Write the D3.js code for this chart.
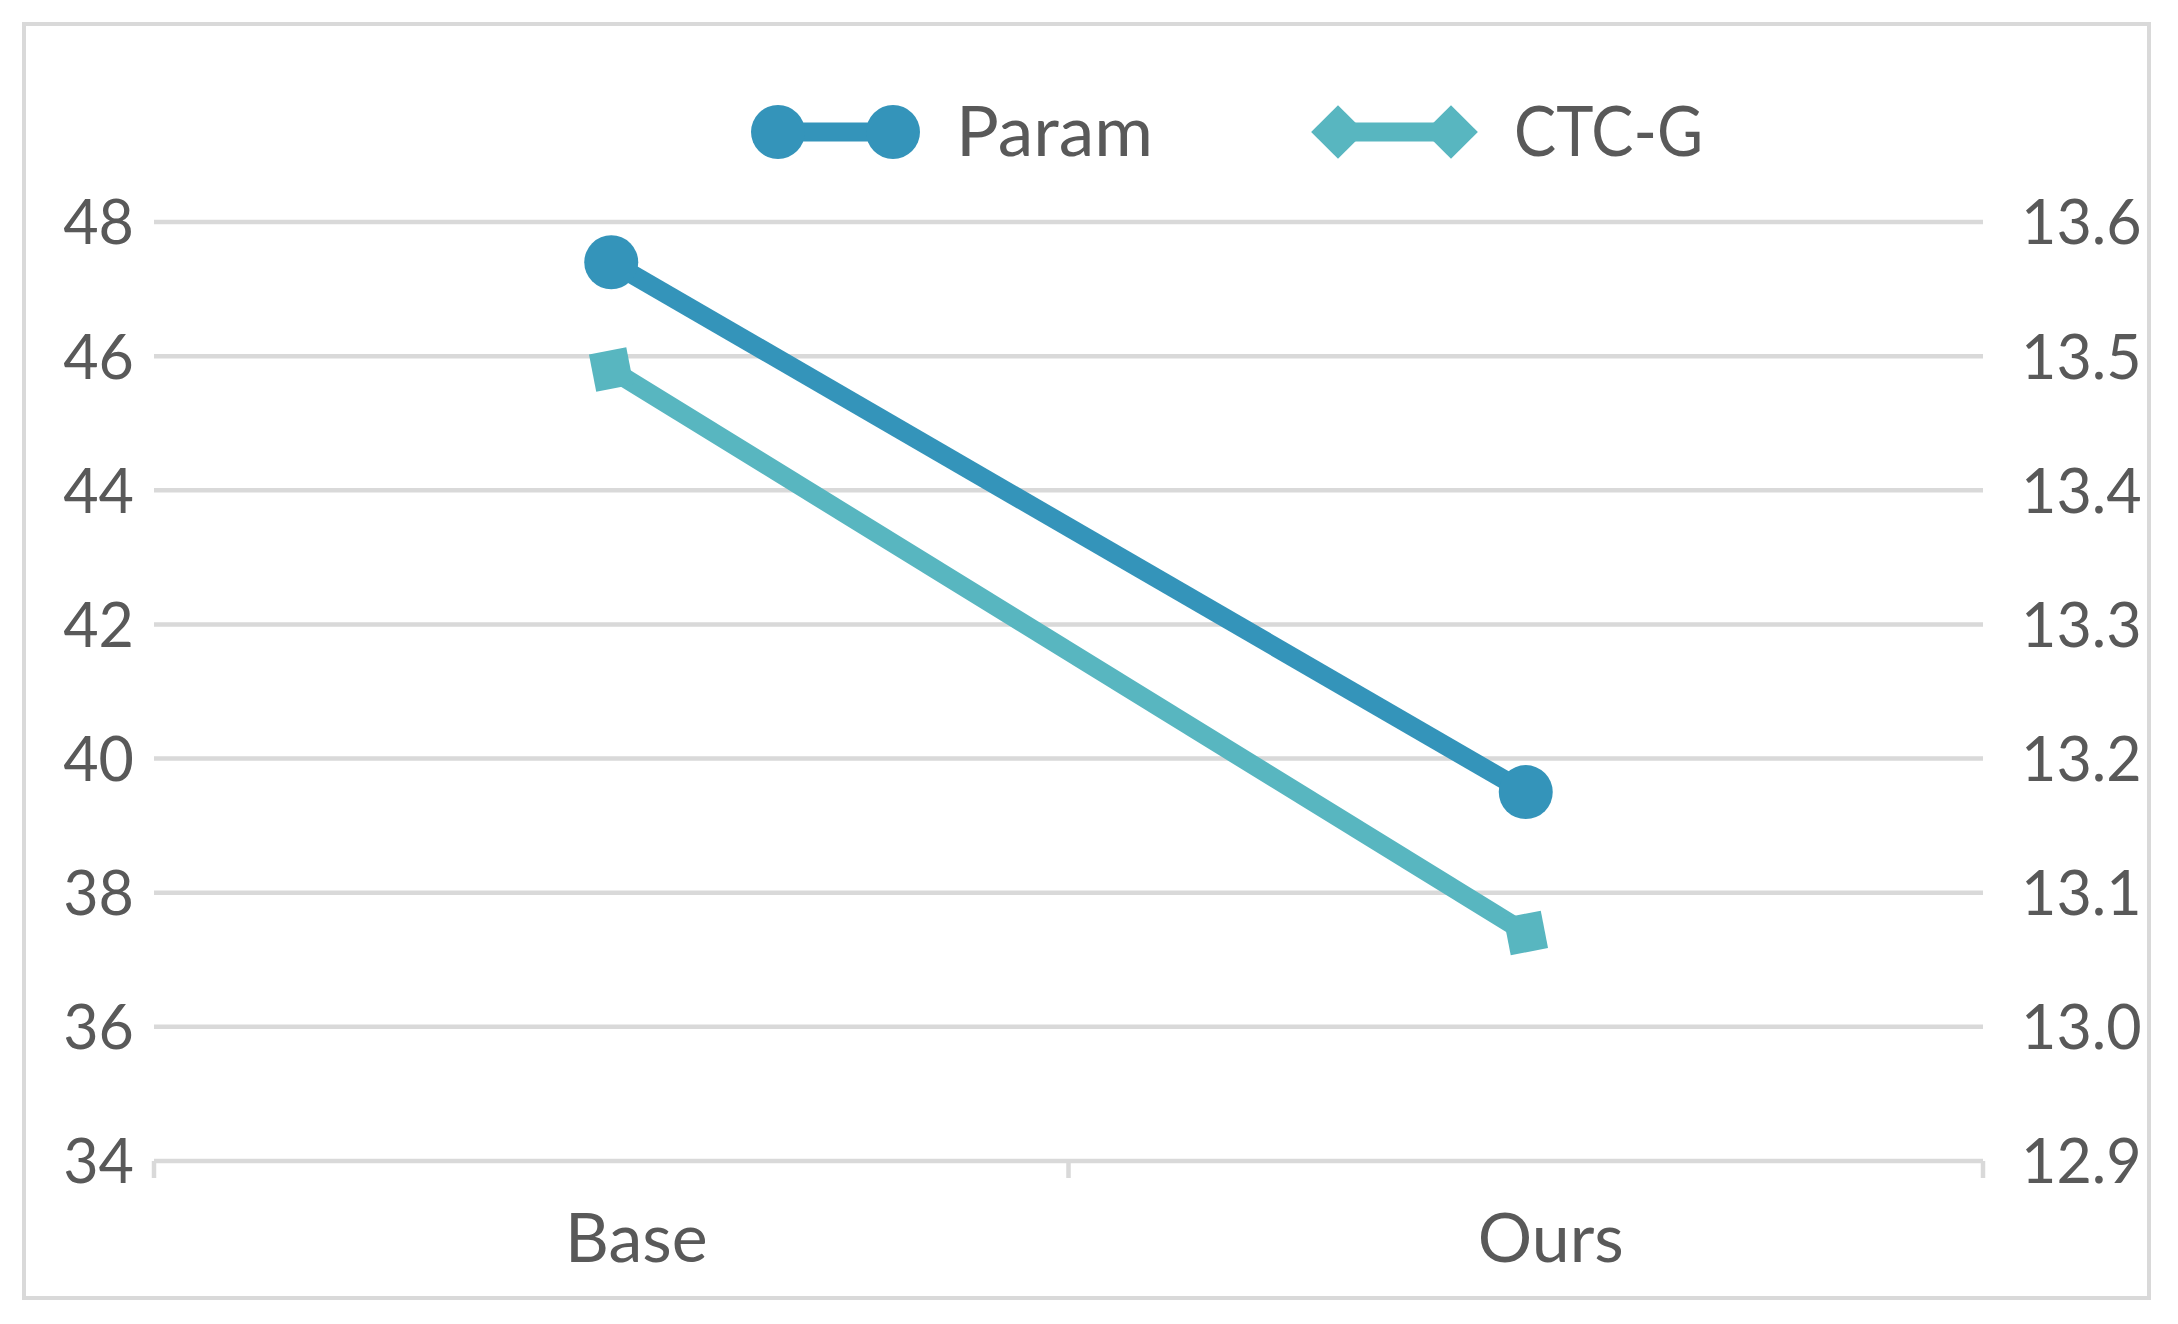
<!DOCTYPE html>
<html>
<head>
<meta charset="utf-8">
<script src="https://cdn.jsdelivr.net/npm/d3@7"></script>
<style>
  html, body { margin: 0; padding: 0; background: #fff; }
  svg { display: block; }
  text { font-family: Lato, "Open Sans", sans-serif; fill: #595959; }
</style>
</head>
<body>
<svg id="chart" width="2178" height="1324"></svg>
<script>
// ---- data ----
const categories = ["Base", "Ours"];
const paramValues = [47.4, 39.5];      // left axis
const ctcgValues = [13.49, 13.07];     // right axis
const leftTicks = [34, 36, 38, 40, 42, 44, 46, 48];
const rightTicks = [12.9, 13.0, 13.1, 13.2, 13.3, 13.4, 13.5, 13.6];
const seriesNames = ["Param", "CTC-G"];
const seriesColors = ["#3494BA", "#58B6C0"];

// ---- layout ----
const W = 2178, H = 1324;
const plot = { left: 154, right: 1983, top: 222, bottom: 1161 };
const svg = d3.select("#chart");

svg.append("rect")
  .attr("x", 24).attr("y", 24).attr("width", 2149 - 24).attr("height", 1298 - 24)
  .attr("fill", "#fff").attr("stroke", "#d9d9d9").attr("stroke-width", 4);

const x = d3.scaleBand().domain(categories).range([plot.left, plot.right]).padding(0);
const yL = d3.scaleLinear().domain([34, 48]).range([plot.bottom, plot.top]);
const yR = d3.scaleLinear().domain([12.9, 13.6]).range([plot.bottom, plot.top]);

// gridlines
svg.append("g").selectAll("line").data(leftTicks.filter(t => t !== 34)).join("line")
  .attr("x1", plot.left).attr("x2", plot.right)
  .attr("y1", d => yL(d)).attr("y2", d => yL(d))
  .attr("stroke", "#d9d9d9").attr("stroke-width", 4.5);

// left axis
const gL = svg.append("g").attr("transform", `translate(${plot.left},0)`)
  .call(d3.axisLeft(yL).tickValues(leftTicks).tickSize(0).tickPadding(20).tickFormat(d3.format("d")));
gL.select(".domain").remove();
gL.selectAll("text").attr("font-size", 61).attr("dy", "0.36em").attr("font-family", "Lato").attr("fill", "#595959");

// right axis
const gR = svg.append("g").attr("transform", `translate(${plot.right},0)`)
  .call(d3.axisRight(yR).tickValues(rightTicks).tickSize(0).tickPadding(38).tickFormat(d3.format(".1f")));
gR.select(".domain").remove();
gR.selectAll("text").attr("font-size", 61).attr("dy", "0.36em").attr("font-family", "Lato").attr("fill", "#595959");

// bottom axis
const gB = svg.append("g").attr("transform", `translate(0,${plot.bottom})`)
  .call(d3.axisBottom(x).tickSize(0).tickPadding(0));
gB.select(".domain").attr("stroke", "#d9d9d9").attr("stroke-width", 4.5)
  .attr("d", `M${plot.left},0H${plot.right}`);
gB.selectAll("text").attr("font-size", 68).attr("dy", null).attr("y", 101).attr("dx", 25)
  .attr("font-family", "Lato").attr("fill", "#595959");
// category boundary ticks
const edges = categories.map(c => x(c)).concat([x(categories[categories.length - 1]) + x.bandwidth()]);
gB.append("g").selectAll("line").data(edges).join("line")
  .attr("x1", d => d).attr("x2", d => d).attr("y1", 0).attr("y2", 17)
  .attr("stroke", "#d9d9d9").attr("stroke-width", 4.5);

const cx = c => x(c) + x.bandwidth() / 2;
const circleSym = d3.symbol(d3.symbolCircle, Math.PI * 27 * 27);
const squareSym = d3.symbol(d3.symbolSquare, 38 * 38);

// CTC-G series
const ctcData = categories.map((c, i) => ({ c, v: ctcgValues[i] }));
svg.append("path").datum(ctcData)
  .attr("d", d3.line().x(d => cx(d.c)).y(d => yR(d.v)))
  .attr("fill", "none").attr("stroke", seriesColors[1]).attr("stroke-width", 19);
svg.append("g").selectAll("path").data(ctcData).join("path")
  .attr("d", squareSym)
  .attr("transform", d => `translate(${cx(d.c)},${yR(d.v)}) rotate(-11)`)
  .attr("fill", seriesColors[1]);

// Param series
const paramData = categories.map((c, i) => ({ c, v: paramValues[i] }));
svg.append("path").datum(paramData)
  .attr("d", d3.line().x(d => cx(d.c)).y(d => yL(d.v)))
  .attr("fill", "none").attr("stroke", seriesColors[0]).attr("stroke-width", 19);
svg.append("g").selectAll("path").data(paramData).join("path")
  .attr("d", circleSym)
  .attr("transform", d => `translate(${cx(d.c)},${yL(d.v)})`)
  .attr("fill", seriesColors[0]);

// legend
const legendY = 132;
const legendItems = [
  { name: seriesNames[0], color: seriesColors[0], x0: 778, x1: 893, tx: 956, tl: 197, sym: circleSym, rot: 0 },
  { name: seriesNames[1], color: seriesColors[1], x0: 1338, x1: 1451, tx: 1514, tl: 189, sym: squareSym, rot: 45 }
];
const lg = svg.append("g").selectAll("g").data(legendItems).join("g");
lg.append("line").attr("x1", d => d.x0).attr("x2", d => d.x1)
  .attr("y1", legendY).attr("y2", legendY)
  .attr("stroke", d => d.color).attr("stroke-width", 19);
lg.each(function (d) {
  const g = d3.select(this);
  [d.x0, d.x1].forEach(px => {
    g.append("path").attr("d", d.sym)
      .attr("transform", `translate(${px},${legendY}) rotate(${d.rot})`)
      .attr("fill", d.color);
  });
});
lg.append("text").attr("x", d => d.tx).attr("y", 156)
  .attr("font-size", 70)
  .attr("textLength", d => d.tl).attr("lengthAdjust", "spacingAndGlyphs")
  .text(d => d.name);
</script>
</body>
</html>
